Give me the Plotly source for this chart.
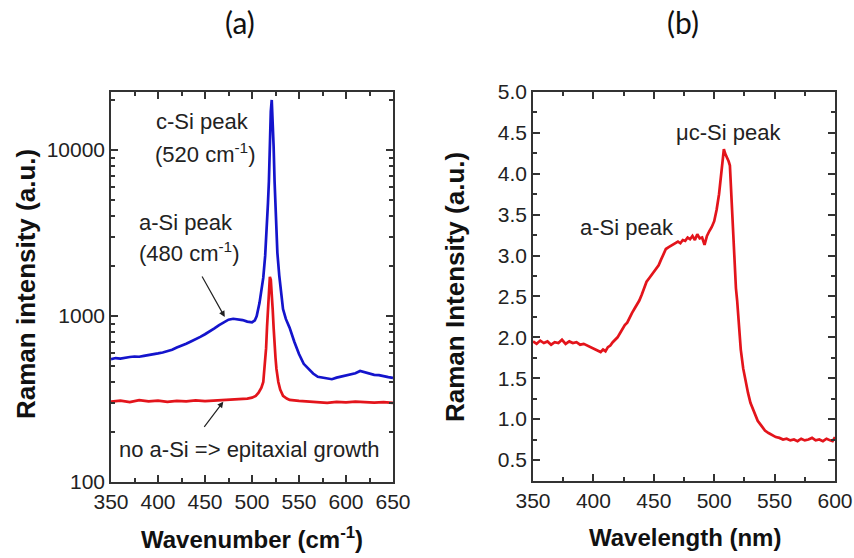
import plotly.graph_objects as go

# ---------------- Panel (a) data ----------------
a_blue_x = [350, 355, 360, 365, 370, 375, 380, 385, 390, 395, 400, 405, 410, 415, 420, 425, 430, 435,
            440, 445, 450, 455, 460, 465, 470, 475, 480, 485, 490, 495, 500, 503, 505, 508, 510, 512,
            514, 516, 517, 518, 519, 520, 521, 522, 523, 524, 525, 526, 527, 529, 531, 533, 536, 540,
            545, 550, 555, 560, 565, 570, 575, 580, 585, 590, 595, 600, 605, 610, 615, 620, 625, 630,
            635, 640, 645, 650]
a_blue_y = [550, 558, 554, 562, 566, 570, 568, 575, 580, 584, 595, 603, 612, 626, 645, 660, 680, 702,
            722, 748, 776, 805, 842, 880, 920, 950, 962, 958, 945, 925, 915, 940, 1000, 1200, 1400, 1700,
            2300, 3500, 4800, 6500, 11000, 17000, 20000, 15500, 10500, 6500, 4300, 3100, 2400, 1750, 1350,
            1100, 960, 850, 700, 590, 515, 478, 450, 430, 424, 418, 416, 425, 432, 438, 444, 452, 466,
            458, 448, 442, 440, 432, 428, 424]

a_red_x = [350, 360, 370, 380, 390, 400, 410, 420, 430, 440, 450, 460, 470, 480, 490, 495, 500, 504,
           507, 510, 512, 514, 515, 516, 517, 518, 519, 520, 521, 522, 523, 524, 525, 526, 528, 530,
           533, 537, 540, 550, 560, 570, 580, 590, 600, 610, 620, 630, 640, 650]
a_red_y = [305, 309, 303, 311, 306, 309, 304, 308, 306, 310, 307, 309, 311, 313, 316, 318, 322, 330,
           345, 370, 400, 520, 640, 860, 1150, 1500, 1720, 1650, 1400, 1100, 850, 650, 560, 480, 400, 360,
           330, 318, 312, 308, 305, 302, 300, 304, 302, 305, 303, 301, 303, 300]

# ---------------- Panel (b) data ----------------
b_x = [350, 353, 356, 359, 362, 365, 368, 371, 374, 377, 380, 383, 386, 389, 392, 395, 398, 401, 404,
       406, 408, 410, 412, 414, 416, 418, 420, 422, 424, 426, 428, 430, 432, 434, 436, 438, 440, 442,
       444, 446, 448, 450, 452, 454, 456, 458, 460, 462, 464, 466, 468, 470, 472, 474, 476, 478, 480,
       482, 484, 486, 488, 490, 492, 494, 496, 498, 500, 502, 504, 505, 506, 507, 508, 509, 510, 512,
       513, 514, 515, 516, 517, 518, 519, 520, 521, 522, 524, 526, 528, 530, 533, 536, 539, 542, 545,
       548, 551, 554, 557, 560, 563, 566, 569, 572, 575, 578, 581, 584, 587, 590, 593, 596, 598, 600]
b_y = [1.95, 1.92, 1.96, 1.93, 1.95, 1.91, 1.94, 1.93, 1.97, 1.92, 1.95, 1.93, 1.94, 1.91, 1.92, 1.90,
       1.88, 1.86, 1.84, 1.82, 1.85, 1.83, 1.88, 1.90, 1.94, 1.97, 2.00, 2.05, 2.10, 2.15, 2.18, 2.25,
       2.30, 2.35, 2.40, 2.45, 2.52, 2.60, 2.68, 2.72, 2.76, 2.80, 2.85, 2.88, 2.95, 3.02, 3.08, 3.10,
       3.12, 3.14, 3.15, 3.17, 3.15, 3.19, 3.18, 3.22, 3.20, 3.24, 3.19, 3.26, 3.21, 3.22, 3.13, 3.24,
       3.30, 3.35, 3.42, 3.56, 3.75, 3.88, 4.00, 4.12, 4.30, 4.25, 4.22, 4.15, 4.10, 3.80, 3.45, 3.10,
       2.80, 2.60, 2.45, 2.25, 2.05, 1.85, 1.62, 1.45, 1.32, 1.20, 1.08, 0.98, 0.92, 0.86, 0.83, 0.80,
       0.78, 0.77, 0.75, 0.76, 0.74, 0.75, 0.73, 0.76, 0.74, 0.75, 0.77, 0.74, 0.75, 0.73, 0.76, 0.74,
       0.73, 0.78]

a_xticks = [350, 400, 450, 500, 550, 600, 650]
a_yticks = [100, 1000, 10000]
b_xticks = [350, 400, 450, 500, 550, 600]
b_yticks = [0.5, 1.0, 1.5, 2.0, 2.5, 3.0, 3.5, 4.0, 4.5, 5.0]

BLUE = "#1414cc"
RED = "#e3141b"
AX = "#333333"
FONT = "Liberation Sans, Arial, sans-serif"
W, H = 854, 558

fig = go.Figure()
fig.add_trace(go.Scatter(x=a_blue_x, y=a_blue_y, mode="lines", line=dict(color=BLUE, width=2.7),
                         xaxis="x", yaxis="y", showlegend=False))
fig.add_trace(go.Scatter(x=a_red_x, y=a_red_y, mode="lines", line=dict(color=RED, width=2.7),
                         xaxis="x", yaxis="y", showlegend=False))
fig.add_trace(go.Scatter(x=b_x, y=b_y, mode="lines", line=dict(color=RED, width=2.7),
                         xaxis="x2", yaxis="y2", showlegend=False))

common = dict(showline=True, linecolor=AX, linewidth=1.5, mirror="ticks", ticks="inside",
              ticklen=7, tickwidth=1.5, tickcolor=AX, showgrid=False, zeroline=False,
              automargin=False, tickfont=dict(family=FONT, size=21, color="#222"))

def px_x(p):
    return p / W

def px_y(p):
    return 1 - p / H

fig.update_layout(
    width=W, height=H, margin=dict(l=0, r=0, t=0, b=0, pad=0, autoexpand=False),
    paper_bgcolor="white", plot_bgcolor="white",
    xaxis=dict(domain=[px_x(111), px_x(393)], range=[350, 650], tickvals=a_xticks,
               minor=dict(ticks="inside", ticklen=4, tickwidth=1.5, tickcolor=AX, dtick=25, tick0=350),
               anchor="y", **common),
    yaxis=dict(domain=[px_y(482), px_y(92)], type="log", range=[2, 4.349],
               tickvals=a_yticks, ticktext=[str(v) for v in a_yticks],
               minor=dict(ticks="inside", ticklen=4, tickwidth=1.5, tickcolor=AX, dtick="D1"),
               anchor="x", **common),
    xaxis2=dict(domain=[px_x(533), px_x(835)], range=[350, 600], tickvals=b_xticks,
                minor=dict(ticks="inside", ticklen=4, tickwidth=1.5, tickcolor=AX, dtick=25, tick0=350),
                anchor="y2", **common),
    yaxis2=dict(domain=[px_y(481), px_y(92)], range=[0.243, 5.0], tickvals=b_yticks,
                ticktext=[f"{v:.1f}" for v in b_yticks],
                minor=dict(ticks="inside", ticklen=4, tickwidth=1.5, tickcolor=AX, dtick=0.25, tick0=0.25),
                anchor="x2", **common),
)

ann_font = dict(family=FONT, size=22, color="#222")
xt_font = dict(family=FONT, size=24, color="#111")
yt_font = dict(family=FONT, size=26, color="#111")
pt_font = dict(family="Lato, Open Sans, Arial", size=30, color="#111")

def pa(text, x, y, font, angle=0):
    return dict(text=text, x=px_x(x), y=px_y(y), xref="paper", yref="paper", showarrow=False,
                xanchor="center", yanchor="middle", textangle=angle, font=font)

def da(text, x, y, xr, yr):
    return dict(text=text, x=x, y=y, xref=xr, yref=yr, showarrow=False,
                xanchor="center", yanchor="middle", font=ann_font)

annotations = [
    pa("(a)", 240, 22, pt_font),
    pa("(b)", 683, 22, pt_font),
    pa("<b>Raman intensity (a.u.)</b>", 26, 284, yt_font, -90),
    pa("<b>Wavenumber (cm<sup>-1</sup>)</b>", 252, 538, xt_font),
    pa("<b>Raman Intensity (a.u.)</b>", 455, 287, yt_font, -90),
    pa("<b>Wavelength (nm)</b>", 685, 537, xt_font),
    da("c-Si peak", 447, 4.169, "x", "y"),
    da("(520 cm<sup>-1</sup>)", 451, 3.982, "x", "y"),
    da("a-Si peak", 430, 3.566, "x", "y"),
    da("(480 cm<sup>-1</sup>)", 433, 3.386, "x", "y"),
    da("no a-Si => epitaxial growth", 497, 2.193, "x", "y"),
    dict(text="", x=471, y=2.994, ax=446, ay=3.247, xref="x", yref="y", axref="x", ayref="y",
         showarrow=True, arrowhead=2, arrowsize=1, arrowwidth=1.2, arrowcolor="#222"),
    dict(text="", x=469.5, y=2.484, ax=448, ay=2.323, xref="x", yref="y", axref="x", ayref="y",
         showarrow=True, arrowhead=2, arrowsize=1, arrowwidth=1.2, arrowcolor="#222"),
    da("\u03bcc-Si peak", 512, 4.50, "x2", "y2"),
    da("a-Si peak", 428, 3.34, "x2", "y2"),
]
fig.update_layout(annotations=annotations)

fig.write_html("out.html")
